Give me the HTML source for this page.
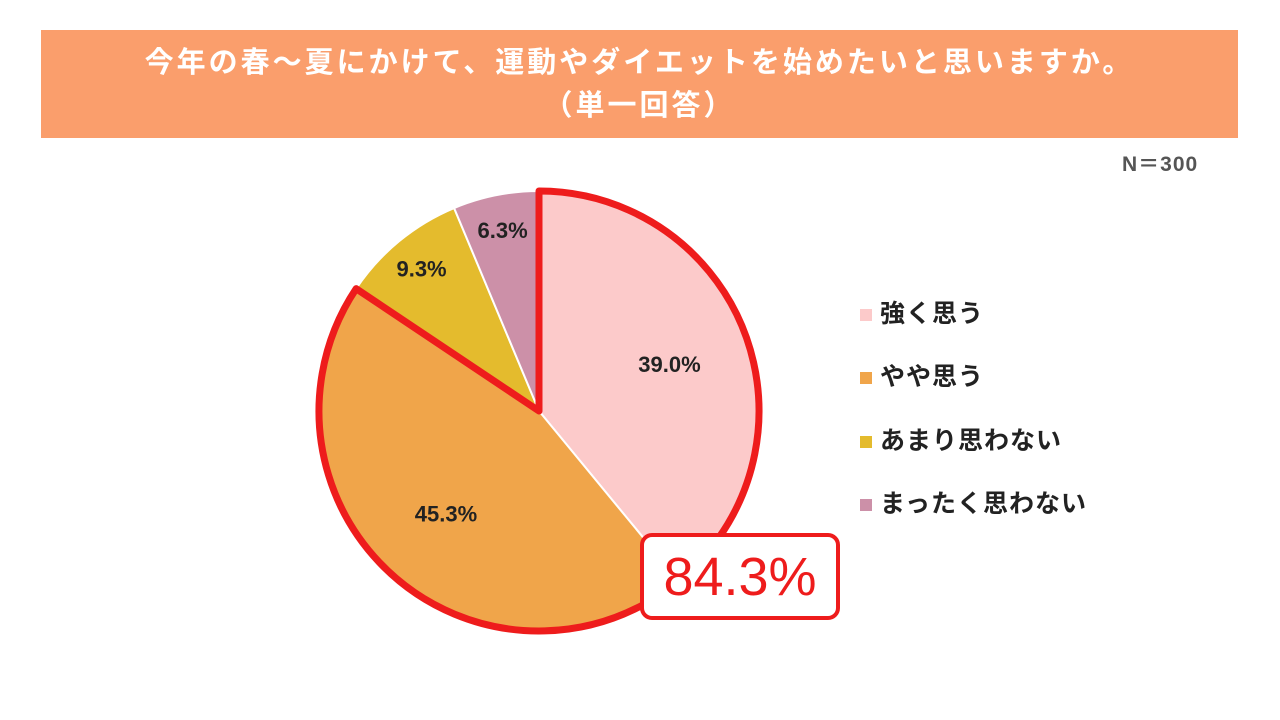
<!DOCTYPE html>
<html><head><meta charset="utf-8">
<style>
body{margin:0;width:1280px;height:720px;background:#fff;overflow:hidden;font-family:"Liberation Sans","Noto Sans CJK JP",sans-serif;}
#banner{position:absolute;left:41px;top:30px;width:1197px;height:108px;background:#FA9E6C;color:#fff;font-weight:bold;font-size:29px;letter-spacing:3px;text-align:center;line-height:43px;padding-top:12px;box-sizing:border-box;}
#n{position:absolute;left:1122px;top:148px;font-size:21px;font-weight:bold;color:#555;letter-spacing:1px;}
.leg{position:absolute;left:860px;font-size:25px;letter-spacing:1px;font-weight:bold;color:#222;}
.leg span{display:inline-block;width:12px;height:12px;margin-right:8px;vertical-align:middle;}
#callout{position:absolute;left:640px;top:533px;width:200px;height:87px;box-sizing:border-box;border:4px solid #EE1C1C;border-radius:12px;background:#fff;color:#EE1C1C;font-size:54px;text-align:center;line-height:80px;}
</style></head><body>
<div id="banner">今年の春～夏にかけて、運動やダイエットを始めたいと思いますか。<br>（単一回答）</div>
<div id="n">N＝300</div>
<svg id="pie" width="1280" height="720" style="position:absolute;left:0;top:0"></svg>
<div class="leg" style="top:294px"><span style="background:#FCCACA"></span>強く思う</div>
<div class="leg" style="top:357px"><span style="background:#F0A54A"></span>やや思う</div>
<div class="leg" style="top:421px"><span style="background:#E4BB2D"></span>あまり思わない</div>
<div class="leg" style="top:484px"><span style="background:#CC90A8"></span>まったく思わない</div>
<div id="callout">84.3%</div>
<script>
const categories=["強く思う","やや思う","あまり思わない","まったく思わない"];
const values=[39.0,45.3,9.3,6.3];
const colors=["#FCCACA","#F0A54A","#E4BB2D","#CC90A8"];
const highlightCount=2;
const svg=document.getElementById('pie');
const ns="http://www.w3.org/2000/svg";
const cx=539,cy=411,R=220;
const total=values.reduce((a,b)=>a+b,0);
function pt(frac,r){const a=frac*2*Math.PI;return [cx+r*Math.sin(a),cy-r*Math.cos(a)];}
let acc=0;
values.forEach((v,i)=>{
  const s=acc/total,e=(acc+v)/total;acc+=v;
  const p0=pt(s,R),p1=pt(e,R);
  const path=document.createElementNS(ns,'path');
  path.setAttribute('d',`M${cx},${cy}L${p0[0]},${p0[1]}A${R},${R} 0 ${e-s>0.5?1:0} 1 ${p1[0]},${p1[1]}Z`);
  path.setAttribute('fill',colors[i]);path.setAttribute('stroke','#fff');path.setAttribute('stroke-width','2');
  
  
  svg.appendChild(path);
});
acc=0;
values.forEach((v,i)=>{
  const m=(acc+v/2)/total;acc+=v;
  const p=pt(m,v>20?0.63*R:0.84*R);
  const t=document.createElementNS(ns,'text');
  t.setAttribute('x',p[0]);t.setAttribute('y',p[1]+8);t.setAttribute('text-anchor','middle');
  t.setAttribute('font-size','22');t.setAttribute('font-weight','bold');t.setAttribute('fill','#222');
  t.textContent=v.toFixed(1)+'%';
  
  
  svg.appendChild(t);
});
const hs=values.slice(0,highlightCount).reduce((a,b)=>a+b,0)/total;
const q0=pt(0,R),q1=pt(hs,R);
const hl=document.createElementNS(ns,'path');
hl.setAttribute('d',`M${cx},${cy}L${q0[0]},${q0[1]}A${R},${R} 0 ${hs>0.5?1:0} 1 ${q1[0]},${q1[1]}Z`);
hl.setAttribute('fill','none');hl.setAttribute('stroke','#EE1C1C');hl.setAttribute('stroke-width','7');hl.setAttribute('stroke-linejoin','round');


svg.appendChild(hl);
</script>
</body></html>
